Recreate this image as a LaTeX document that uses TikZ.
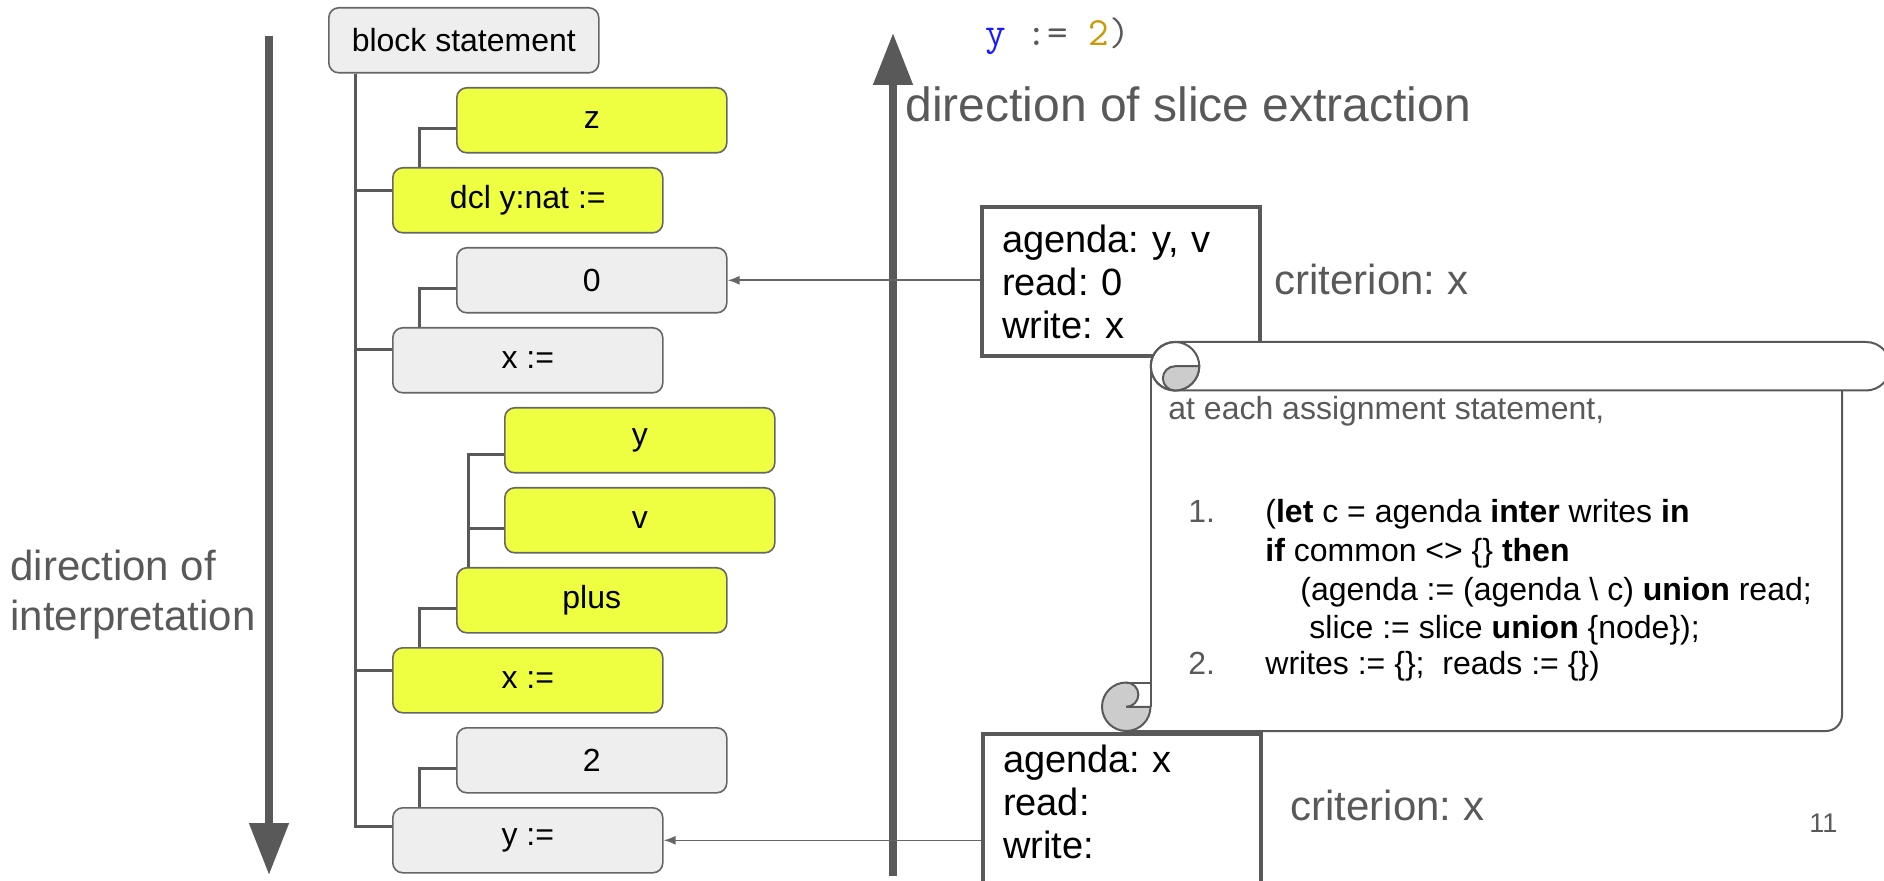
\documentclass[tikz,border=0pt]{standalone}
\usepackage{fontspec}
\setmainfont{Liberation Sans}
\usetikzlibrary{arrows.meta,positioning}
\frenchspacing

\definecolor{nodegray}{HTML}{EEEEEE}
\definecolor{sliceyellow}{HTML}{EEFF41}
\definecolor{boxline}{HTML}{666666}
\definecolor{inkgray}{HTML}{595959}
\definecolor{rollgray}{HTML}{CCCCCC}
\definecolor{codeblue}{HTML}{1A1AFF}
\definecolor{codegold}{HTML}{C99A06}

\tikzset{
  astnode/.style={draw=boxline, line width=0.8pt, rounded corners=5pt, anchor=north west,
    minimum width=135pt, minimum height=32.5pt, inner sep=0pt, font=\fontsize{16}{19}\selectfont},
  plainnode/.style={astnode, fill=nodegray},
  slicenode/.style={astnode, fill=sliceyellow},
  tree/.style={draw=inkgray, line width=1.5pt},
  pointer/.style={draw=boxline, line width=0.8pt, -{Latex[length=6pt,width=4.5pt]}},
  bigarrow/.style={draw=inkgray, line width=4pt, -{Triangle[length=26pt,width=19pt]}},
  infobox/.style={draw=inkgray, line width=2pt, fill=white, anchor=north west, align=left,
    text width=119pt, inner xsep=10pt, minimum height=74.5pt,
    font=\fontsize{19}{21.5}\selectfont},
  note/.style={text=inkgray, inner sep=0pt, anchor=west},
  scrolltext/.style={anchor=west, inner sep=0pt, text height=11pt, text depth=3.5pt,
    font=\fontsize{16}{19}\selectfont},
  scrollline/.style={draw=inkgray, line width=1pt},
}

\begin{document}
\begin{tikzpicture}[x=0.5pt, y=-0.5pt]
\useasboundingbox (0,0) rectangle (1884,881);
\clip (0,0) rectangle (1884,881);

% interpretation runs downwards
\coordinate (itop) at (269,36);
\coordinate (ibot) at (269,875);
\draw[bigarrow] (itop) -- (ibot);
\node[note, align=left, font=\fontsize{21}{25}\selectfont] (interp) at (10,595) {direction of\\interpretation};

% syntax tree
\node[plainnode] (blk) at (328,7) {block statement};
\node[slicenode] (z) at (456,87) {z};
\node[slicenode] (dcl) at (392,167) {dcl y:nat :=};
\node[plainnode] (zero) at (456,247) {0};
\node[plainnode] (xa) at (392,327) {x :=};
\node[slicenode] (yv) at (504,407) {y};
\node[slicenode] (vv) at (504,487) {v};
\node[slicenode] (plus) at (456,567) {plus};
\node[slicenode] (xb) at (392,647) {x :=};
\node[plainnode] (two) at (456,727) {2};
\node[plainnode] (ya) at (392,807) {y :=};

\coordinate (trunk) at ([xshift=13.5pt]blk.south west);
\foreach \kid/\lift in {dcl/5pt, xa/5.5pt, xb/5pt, ya/7pt}
  \draw[tree] (trunk) |- ([yshift=\lift]\kid.west);
\foreach \kid/\mom in {z/dcl, zero/xa, plus/xb, two/ya}
  \draw[tree] ([xshift=13.5pt]\mom.north west) |- ([yshift=-4pt]\kid.west);
\draw[tree] ([xshift=6pt]plus.north west) |- ([yshift=-7pt]yv.west);
\draw[tree] ([xshift=6pt]plus.north west) |- ([yshift=-4pt]vv.west);

% slice extraction runs upwards
\coordinate (sbot) at (893,876);
\coordinate (stop) at (893,33);
\draw[bigarrow] (sbot) -- (stop);
\node[note, font=\fontsize{24}{28}\selectfont] (slicedir) at (905,104) {direction of slice extraction};
\node[anchor=west, inner sep=0pt, font=\ttfamily\fontsize{20}{24}\selectfont] (code) at (985,36)
  {\textcolor{codeblue}{y} \textcolor{inkgray}{:=} \textcolor{codegold}{2}\textcolor{inkgray}{)}};

% agenda boxes
\node[infobox] (agtop) at (980,205) {agenda: y, v\\read: 0\\write: x};
\node[infobox, text depth=50pt] (agbot) at (981,732) {agenda: x\\read:\\write:};
\draw[pointer] (agtop.west |- zero.east) -- (zero.east);
\draw[pointer] (agbot.west |- ya.east) -- (ya.east);

\node[note, font=\fontsize{21}{25}\selectfont] (crittop) at (1274,279) {criterion: x};
\node[note, font=\fontsize{21}{25}\selectfont] (critbot) at (1290,805) {criterion: x};
\node[note, font=\fontsize{13.5}{16}\selectfont] (pgno) at (1809,823) {11};

% scroll with the update rule
\coordinate (rl) at (1175,366.25);
\coordinate (cl) at (1126.25,706.75);
\filldraw[scrollline, fill=white] (1175,342) -- (1866,342) arc[start angle=270, end angle=450, radius=24.25]
  -- (1175,390.5) arc[start angle=90, end angle=270, radius=24.25] -- cycle;
\draw[scrollline] (rl) circle[radius=24.25];
\filldraw[scrollline, fill=rollgray] (rl) -- ++(24.25,0) arc[start angle=0, end angle=90, radius=24.25]
  arc[start angle=90, end angle=270, radius=12.125] -- cycle;
\draw[scrollline] (1150.75,366.25) -- (1150.75,706.75);
\draw[scrollline] (1842,390.5) -- (1842,715) arc[start angle=0, end angle=90, radius=16] -- (cl |- 0,731);
\filldraw[scrollline, fill=rollgray] (cl) -- ++(24.25,0) arc[start angle=0, end angle=270, radius=24.25]
  arc[start angle=270, end angle=450, radius=12.125] -- cycle;
\draw[scrollline] (1126.25,682.5) -- (1150.75,682.5);

\node[scrolltext, text=inkgray] (intro) at (1168,412) {at each assignment statement,};
\node[scrolltext, text=inkgray] (n1) at (1188,515) {1.};
\node[scrolltext] (s1) at (1265,515) {(\textbf{let} c = agenda \textbf{inter} writes \textbf{in}};
\node[scrolltext] (s2) at (1265,554) {\textbf{if} common <> \{\} \textbf{then}};
\node[scrolltext] (s3) at (1300,593) {(agenda := (agenda \textbackslash{} c) \textbf{union} read;};
\node[scrolltext] (s4) at (1309,631) {slice := slice \textbf{union} \{node\});};
\node[scrolltext, text=inkgray] (n2) at (1188,667) {2.};
\node[scrolltext] (s5) at (1265,667) {writes := \{\};\ \ reads := \{\})};
\end{tikzpicture}
\end{document}
